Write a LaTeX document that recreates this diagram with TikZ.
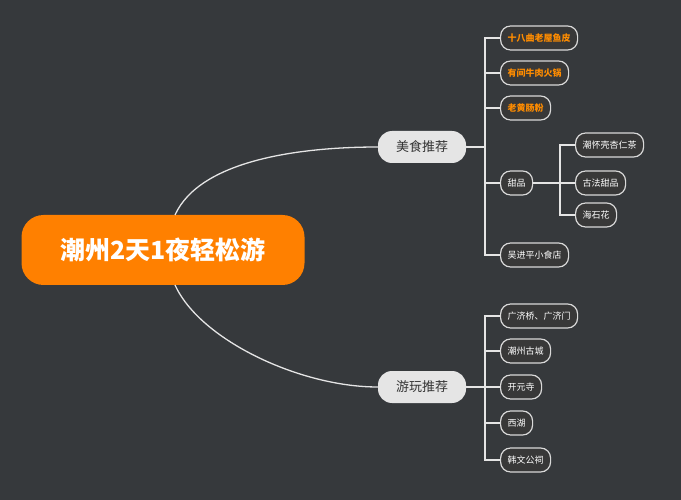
\documentclass[tikz,border=0pt]{standalone}
\usepackage{fontspec}
\setmainfont{Noto Sans CJK SC}
\begin{document}
\begin{tikzpicture}[x=1pt,y=-1pt,
 leaf/.style={draw=white!85!black,line width=1.2pt,fill=black!78,rounded corners=10pt,minimum height=24pt,inner xsep=7pt,text=white,font=\fontsize{9}{9}\selectfont,anchor=west},
 hl/.style={text=orange!90!yellow,font=\bfseries\fontsize{9}{9}\selectfont},
 mid/.style={fill=white!90!black,rounded corners=14pt,minimum width=88pt,minimum height=32pt,font=\fontsize{13}{13}\selectfont,text=black!80},
 ln/.style={draw=white!90!black,line width=1.3pt}]
\fill[fill={rgb,255:red,54;green,57;blue,60}] (0,0) rectangle (681,500);
\useasboundingbox (0,0) rectangle (681,500);
\node[fill={rgb,255:red,255;green,128;blue,0},rounded corners=22pt,minimum width=283pt,minimum height=70pt,text=white,font=\bfseries\fontsize{25}{25}\selectfont] (c) at (163,250) {潮州2天1夜轻松游};
\node[mid] (f) at (422,147) {美食推荐};
\node[mid] (p) at (422,387) {游玩推荐};
\draw[ln] (175,215) .. controls (200,160) and (300,147) .. (f.west);
\draw[ln] (175,285) .. controls (200,340) and (300,387) .. (p.west);
\node[leaf,hl] (f1) at (500,38) {十八曲老屋鱼皮};
\node[leaf,hl] (f2) at (500,73) {有间牛肉火锅};
\node[leaf,hl] (f3) at (500,108) {老黄肠粉};
\node[leaf] (f4) at (500,183) {甜品};
\node[leaf] (f5) at (500,255) {吴进平小食店};
\node[leaf] (s1) at (575,145) {潮怀壳杏仁茶};
\node[leaf] (s2) at (575,183) {古法甜品};
\node[leaf] (s3) at (575,215) {海石花};
\node[leaf] (p1) at (500,316) {广济桥、广济门};
\node[leaf] (p2) at (500,351) {潮州古城};
\node[leaf] (p3) at (500,387) {开元寺};
\node[leaf] (p4) at (500,423) {西湖};
\node[leaf] (p5) at (500,460) {韩文公祠};
\coordinate (fj) at (485,147);
\coordinate (pj) at (485,387);
\coordinate (sj) at (560,183);
\draw[ln] (f.east) -- (fj);
\draw[ln] (p.east) -- (pj);
\draw[ln] (f4.east) -- (sj);
\foreach \n in {f1,f2,f3,f4,f5} \draw[ln] (fj) |- (\n.west);
\foreach \n in {p1,p2,p3,p4,p5} \draw[ln] (pj) |- (\n.west);
\foreach \n in {s1,s2,s3} \draw[ln] (sj) |- (\n.west);
\end{tikzpicture}
\end{document}
